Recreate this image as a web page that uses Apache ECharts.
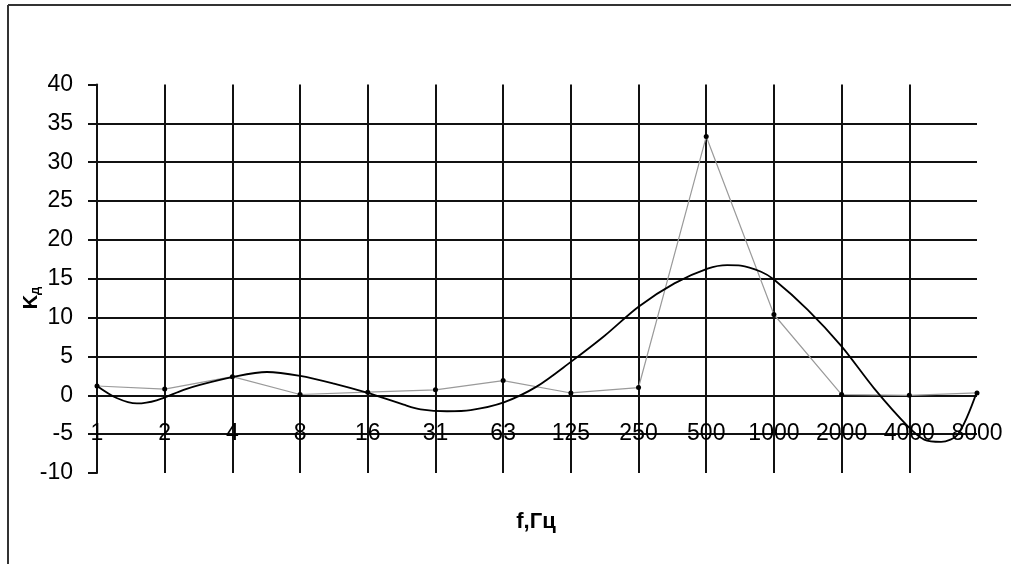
<!DOCTYPE html>
<html>
<head>
<meta charset="utf-8">
<script src="https://cdn.jsdelivr.net/npm/echarts@6/dist/echarts.min.js"></script>
<style>
  html, body { margin: 0; padding: 0; background: #fff; }
  #chart { width: 1011px; height: 564px; }
</style>
</head>
<body>
<div id="chart"></div>
<script>
// Octave-band frequencies, Hz
const categories = ['1', '2', '4', '8', '16', '31', '63', '125', '250', '500', '1000', '2000', '4000', '8000'];
// Measured coefficient per band
const kValues = [1.2, 0.8, 2.4, 0.1, 0.4, 0.7, 1.9, 0.3, 1.0, 33.3, 10.4, 0.1, 0.0, 0.3];
// Trend curve: position along the band axis (band index) and its value
const trendPos  = [0, 0.29, 0.59, 0.88, 1.28, 1.52, 2.0, 2.51, 3.0, 3.5, 4.0, 4.53, 4.78, 5.17, 5.52, 6.01, 6.5, 7.0, 7.49, 8.0, 8.53, 9.02, 9.31, 9.51, 9.81, 10.0, 10.5, 11.0, 11.48, 11.98, 12.22, 12.47, 12.72, 13];
const trendVals = [1.2, -0.35, -1.05, -0.65, 0.7, 1.35, 2.35, 3.0, 2.5, 1.5, 0.3, -1.2, -1.8, -2.05, -1.9, -0.9, 1.15, 4.3, 7.6, 11.4, 14.4, 16.3, 16.75, 16.7, 15.9, 14.9, 11.0, 6.3, 0.9, -4.0, -5.7, -6.0, -5.0, 0.5];
// Value-axis tick labels
const yTicks = [-10, -5, 0, 5, 10, 15, 20, 25, 30, 35, 40];

const trendData = trendPos.map((p, i) => [p, trendVals[i]]);
const labelFont = { fontFamily: '"Liberation Sans", Arial, sans-serif', fontSize: 23, color: '#000' };

const chart = echarts.init(document.getElementById('chart'), null, { renderer: 'canvas' });
chart.setOption({
  animation: false,
  backgroundColor: '#fff',
  grid: { left: 97, right: 34, top: 84.5, bottom: 91 },
  xAxis: [
    {
      type: 'category',
      data: categories,
      boundaryGap: false,
      position: 'bottom',
      offset: -39,
      axisLine: { show: false },
      axisTick: { show: false },
      axisLabel: Object.assign({ margin: 0, verticalAlign: 'middle', interval: 0 }, labelFont),
      splitLine: {
        show: true,
        interval: (idx) => idx > 0 && idx < categories.length - 1,
        lineStyle: { color: '#111', width: 2 }
      }
    },
    {
      type: 'value',
      min: 0,
      max: categories.length - 1,
      show: false
    }
  ],
  yAxis: {
    type: 'value',
    min: yTicks[0],
    max: yTicks[yTicks.length - 1],
    interval: 5,
    axisLine: { show: true, lineStyle: { color: '#111', width: 2 } },
    axisTick: { show: true, length: 9, lineStyle: { color: '#111', width: 2 } },
    axisLabel: Object.assign({ margin: 24 }, labelFont),
    splitLine: {
      show: true,
      lineStyle: {
        width: 2,
        color: yTicks.map((v, i) => (i === 0 || i === yTicks.length - 1) ? 'rgba(0,0,0,0)' : '#111')
      }
    }
  },
  series: [
    {
      type: 'line',
      xAxisIndex: 0,
      data: kValues,
      symbol: 'circle',
      symbolSize: 5,
      itemStyle: { color: '#000' },
      lineStyle: { color: '#9a9a9a', width: 1.2 },
      z: 3
    },
    {
      type: 'line',
      xAxisIndex: 1,
      data: trendData,
      showSymbol: false,
      smooth: 0.3,
      lineStyle: { color: '#000', width: 1.8 },
      z: 4
    }
  ],
  graphic: [
    { type: 'line', shape: { x1: 8, y1: 5, x2: 1011, y2: 5 }, style: { stroke: '#333', lineWidth: 2 } },
    { type: 'line', shape: { x1: 8, y1: 5, x2: 8, y2: 564 }, style: { stroke: '#333', lineWidth: 2 } },
    {
      type: 'text',
      x: 31, y: 298,
      rotation: Math.PI / 2,
      style: {
        text: '{a|K}{b|д}',
        align: 'center',
        verticalAlign: 'middle',
        rich: {
          a: { fontFamily: '"Liberation Sans", Arial, sans-serif', fontWeight: 'bold', fontSize: 20, fill: '#000' },
          b: { fontFamily: '"Liberation Sans", Arial, sans-serif', fontWeight: 'bold', fontSize: 13, fill: '#000', padding: [8, 0, 0, 0] }
        }
      }
    },
    {
      type: 'text',
      x: 536, y: 522,
      style: {
        text: 'f,Гц',
        align: 'center',
        verticalAlign: 'middle',
        fontFamily: '"Liberation Sans", Arial, sans-serif',
        fontWeight: 'bold',
        fontSize: 22,
        fill: '#000'
      }
    }
  ]
});
</script>
</body>
</html>
